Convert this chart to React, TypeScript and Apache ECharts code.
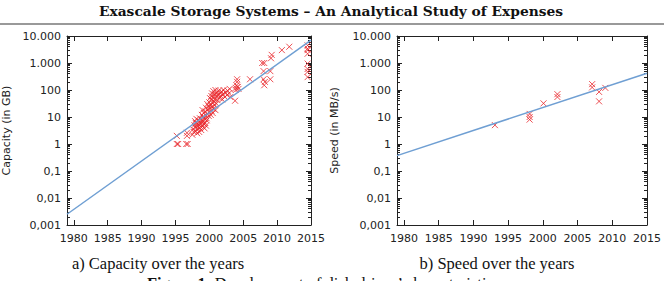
import React, { useEffect, useRef } from "react";
import * as echarts from "echarts";

// Disk drive capacity (GB) by year of introduction
const capacityPoints: [number, number][] = [
  [1995.2, 2], [1995.2, 1], [1995.4, 1],
  [1996.6, 1], [1996.8, 1], [1996.7, 2], [1996.7, 2.6],
  // late 1990s desktop drives
  [1997.5, 2.2], [1997.6, 3.5], [1997.7, 2.8], [1997.8, 5], [1997.9, 4.2], [1997.9, 7],
  [1998.0, 3], [1998.0, 6], [1998.1, 8.5], [1998.2, 2.5], [1998.2, 4.5], [1998.3, 5.8],
  [1998.3, 3.6], [1998.4, 7.5], [1998.5, 2.8], [1998.5, 5], [1998.6, 4], [1998.6, 9],
  [1998.7, 6.5], [1998.8, 3.3], [1998.8, 5.5], [1998.9, 8], [1999.0, 4.5], [1999.0, 7],
  [1999.1, 10], [1999.2, 5.5], [1999.3, 3.8], [1999.3, 8.5], [1999.4, 6], [1999.5, 4.8],
  [1999.5, 11], [1999.6, 7.5],
  [1998.9, 12], [1999.0, 18], [1999.2, 14], [1999.4, 16], [1999.5, 22], [1999.6, 9],
  [1999.7, 13], [1999.7, 30], [1999.8, 19], [1999.9, 11], [1999.9, 25], [2000.0, 15],
  [2000.0, 35], [2000.1, 21], [2000.2, 12], [2000.2, 28], [2000.3, 17], [2000.3, 45],
  [2000.4, 24], [2000.5, 33], [2000.5, 14], [2000.6, 20], [2000.7, 38], [2000.8, 27],
  [2000.9, 18], [2001.0, 32],
  [2000.1, 50], [2000.3, 60], [2000.4, 75], [2000.6, 55], [2000.6, 90], [2000.8, 45],
  [2000.8, 70], [2000.9, 100], [2001.0, 58], [2001.1, 80], [2001.2, 42], [2001.3, 65],
  [2001.4, 95], [2001.5, 50], [2001.6, 75], [2001.7, 60], [2001.8, 88], [2001.9, 45],
  [2002.0, 70], [2002.1, 100], [2002.3, 55], [2002.4, 80], [2002.6, 65], [2002.7, 95],
  [2002.9, 75], [2003.0, 110], [2003.1, 55],
  // 2003 onwards
  [2003.8, 40], [2003.9, 100], [2003.9, 120], [2004.0, 150], [2004.1, 200], [2004.1, 250],
  [2004.2, 130], [2004.3, 110],
  [2006.0, 250],
  [2007.8, 1000], [2008.1, 1000], [2008.0, 500], [2008.0, 250], [2008.1, 150], [2008.2, 200],
  [2009.0, 500], [2009.0, 250], [2009.1, 1500], [2009.2, 2000],
  [2010.7, 3000], [2011.8, 4000],
  [2014.5, 4500], [2014.5, 3400], [2014.5, 2200], [2014.5, 950], [2014.5, 470], [2014.5, 300],
  [2014.5, 3000], [2014.5, 600],
];

// Disk drive sustained speed (MB/s) by year
const speedPoints: [number, number][] = [
  [1993.1, 5],
  [1998.1, 13], [1998.1, 10], [1998.1, 8],
  [2000.1, 32],
  [2002.1, 70], [2002.1, 55],
  [2007.1, 165], [2007.1, 125],
  [2008.1, 85], [2008.1, 38],
  [2009.0, 120],
];

// Exponential fits (straight lines on the log scale)
const capacityTrend: [number, number][] = [[1979, 0.0025], [2015, 7000]];
const speedTrend: [number, number][] = [[1979, 0.37], [2015, 420]];

const yearTicks = [1980, 1985, 1990, 1995, 2000, 2005, 2010, 2015];
const decadeValues = [0.001, 0.01, 0.1, 1, 10, 100, 1000, 10000];
const decadeLabels = ["0,001", "0,01", "0,1", "1", "10", "100", "1.000", "10.000"];

const captionA = "a) Capacity over the years";
const captionB = "b) Speed over the years";
const pageTitle = "Exascale Storage Systems \u2013 An Analytical Study of Expenses";

const INK = "#222";
const RED = "#e8262a";
const BLUE = "#6f9fd3";
const SANS = "DejaVu Sans";

function decadeLabel(v: number): string {
  const i = decadeValues.findIndex((t) => Math.abs(Math.log10(t) - Math.log10(v)) < 1e-6);
  return i >= 0 ? decadeLabels[i] : "";
}

function xAxes(gridIndex: number) {
  const base = {
    type: "value",
    gridIndex,
    min: 1979,
    max: 2015,
    splitLine: { show: false },
    axisLine: { show: true, lineStyle: { color: INK, width: 1 } },
    axisTick: { show: true, inside: true, length: 5, customValues: yearTicks, lineStyle: { color: INK } },
  };
  return [
    {
      ...base,
      position: "bottom",
      axisLabel: {
        show: true,
        customValues: yearTicks,
        color: INK,
        fontFamily: SANS,
        fontSize: 11,
        margin: 8,
        formatter: (v: number) => String(Math.round(v)),
      },
    },
    { ...base, position: "top", axisLabel: { show: false } },
  ];
}

function yAxes(gridIndex: number, name: string, nameGap: number) {
  const base = {
    type: "log",
    logBase: 10,
    gridIndex,
    min: 0.001,
    max: 10000,
    interval: 1,
    splitLine: { show: false },
    axisLine: { show: true, lineStyle: { color: INK, width: 1 } },
    axisTick: { show: true, inside: true, length: 5, lineStyle: { color: INK } },
    minorTick: { show: true, splitNumber: 9, length: 3, lineStyle: { color: INK } },
  };
  return [
    {
      ...base,
      position: "left",
      name,
      nameLocation: "middle",
      nameRotate: 90,
      nameGap,
      nameTextStyle: { color: INK, fontFamily: SANS, fontSize: 11 },
      axisLabel: {
        show: true,
        color: INK,
        fontFamily: SANS,
        fontSize: 11,
        margin: 6,
        formatter: (v: number) => decadeLabel(v),
      },
    },
    { ...base, position: "right", axisLabel: { show: false } },
  ];
}

const crossSymbol = "path://M0,0L10,10M0,10L10,0";

const textStyle = (text: string, font: string) => ({
  text,
  align: "center",
  verticalAlign: "middle",
  textAlign: "center",
  textVerticalAlign: "middle",
  font,
  fill: "#111",
});

export default function App() {
  const ref = useRef<HTMLDivElement>(null);

  useEffect(() => {
    if (!ref.current) return;
    const chart = echarts.init(ref.current, undefined, { renderer: "svg" });
    chart.setOption({
      animation: false,
      backgroundColor: "#fff",
      grid: [
        { left: 59, top: 36, width: 252, height: 189, containLabel: false },
        { left: 397, top: 36, width: 252, height: 189, containLabel: false },
      ],
      xAxis: [...xAxes(0), ...xAxes(1)],
      yAxis: [...yAxes(0, "Capacity (in GB)", 55), ...yAxes(1, "Speed (in MB/s)", 57)],
      series: [
        {
          type: "scatter",
          xAxisIndex: 0,
          yAxisIndex: 0,
          data: capacityPoints,
          symbol: crossSymbol,
          symbolSize: 6,
          itemStyle: { color: "none", borderColor: RED, borderWidth: 1 },
          z: 2,
        },
        {
          type: "line",
          xAxisIndex: 0,
          yAxisIndex: 0,
          data: capacityTrend,
          showSymbol: false,
          lineStyle: { color: BLUE, width: 1.5 },
          z: 3,
        },
        {
          type: "scatter",
          xAxisIndex: 2,
          yAxisIndex: 2,
          data: speedPoints,
          symbol: crossSymbol,
          symbolSize: 6,
          itemStyle: { color: "none", borderColor: RED, borderWidth: 1 },
          z: 2,
        },
        {
          type: "line",
          xAxisIndex: 2,
          yAxisIndex: 2,
          data: speedTrend,
          showSymbol: false,
          lineStyle: { color: BLUE, width: 1.5 },
          z: 3,
        },
      ],
      graphic: [
        {
          type: "text",
          x: 331,
          y: 11,
          style: textStyle(pageTitle, 'bold 13.8px "DejaVu Serif"'),
        },
        {
          type: "line",
          shape: { x1: 0, y1: 24, x2: 664, y2: 24 },
          style: { stroke: "#777", lineWidth: 1.5 },
        },
        {
          type: "text",
          x: 158,
          y: 263,
          style: textStyle(captionA, '16.5px "Liberation Serif"'),
        },
        {
          type: "text",
          x: 497,
          y: 263,
          style: textStyle(captionB, '16.5px "Liberation Serif"'),
        },
        {
          type: "text",
          x: 326,
          y: 283,
          style: {
            ...textStyle(
              "{b|Figure 1.} Development of disk drives\u2019 characteristics.",
              '16.5px "Liberation Serif"'
            ),
            rich: {
              b: { fontWeight: "bold", fontFamily: "Liberation Serif", fontSize: 16.5, fill: "#111" },
            },
          },
        },
      ],
    });
    return () => chart.dispose();
  }, []);

  return (
    <div
      ref={ref}
      style={{ position: "absolute", left: 0, top: 0, width: 664, height: 281 }}
    />
  );
}
